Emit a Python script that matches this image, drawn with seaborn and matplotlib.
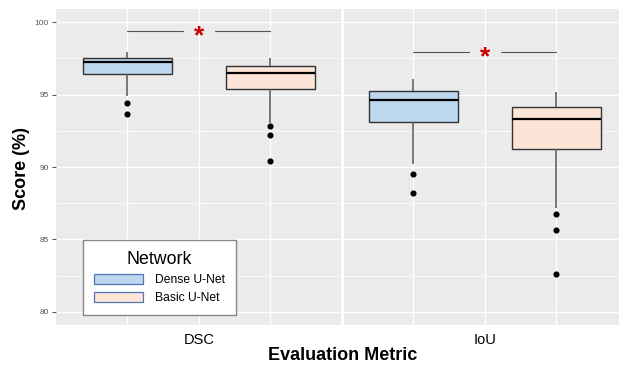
import numpy as np
import pandas as pd
import matplotlib
matplotlib.use("Agg")
import matplotlib.pyplot as plt
from matplotlib.patches import Patch
import seaborn as sns

# ---- data (box statistics, %) ----
metrics = ["DSC", "IoU"]
networks = ["Dense U-Net", "Basic U-Net"]

dense_q1 = [96.40, 93.10]
dense_med = [97.22, 94.64]
dense_q3 = [97.52, 95.22]
dense_lo = [94.90, 90.20]
dense_hi = [97.92, 96.07]
dense_out = [[94.43, 93.68], [89.54, 88.23]]

basic_q1 = [95.36, 91.22]
basic_med = [96.50, 93.31]
basic_q3 = [96.94, 94.16]
basic_lo = [93.06, 87.15]
basic_hi = [97.50, 95.20]
basic_out = [[92.85, 92.20, 90.41], [86.76, 85.63, 82.60]]

sig_y = [99.38, 97.93]
sig_label = ["*", "*"]
yticks = [80, 85, 90, 95, 100]


def sample(q1, med, q3, lo, hi, outs):
    # 21 values whose quartiles/whiskers/outliers equal the read statistics
    low = sorted(outs) + [lo]
    vals = low + [q1] * (6 - len(low)) + [med] * 5 + [q3] * 9 + [hi]
    return vals


rows = []
for i, m in enumerate(metrics):
    for v in sample(dense_q1[i], dense_med[i], dense_q3[i], dense_lo[i], dense_hi[i], dense_out[i]):
        rows.append((m, networks[0], v))
    for v in sample(basic_q1[i], basic_med[i], basic_q3[i], basic_lo[i], basic_hi[i], basic_out[i]):
        rows.append((m, networks[1], v))
df = pd.DataFrame(rows, columns=["metric", "network", "score"])

sns.set_theme(style="darkgrid")
plt.rcParams["font.family"] = ["Liberation Sans", "DejaVu Sans"]
plt.rcParams["text.color"] = "black"

fig = plt.figure(figsize=(6.19, 3.71), dpi=100)
ax = fig.add_axes([55.7 / 619, 46 / 371, (628 - 55.7) / 619, (325 - 9.3) / 371])
ax.set_facecolor("#EBEBEB")

fills = {"Dense U-Net": "#BDD7EE", "Basic U-Net": "#FCE4D6"}
sns.boxplot(
    data=df, x="metric", y="score", hue="network", order=metrics, hue_order=networks,
    palette=fills, saturation=1, width=1.0, gap=0.38, ax=ax, showcaps=False, legend=False,
    linecolor="#333333", linewidth=1.0,
    whiskerprops=dict(color="#555555", linewidth=1.1),
    medianprops=dict(color="black", linewidth=1.6),
    flierprops=dict(marker="o", markerfacecolor="black", markeredgecolor="black", markersize=3.4),
)

ax.set_xlim(-0.5, 1.5)
ax.set_ylim(79.1, 100.88)

# grid
ax.grid(False)
for x in [-0.25, 0, 0.25, 0.75, 1, 1.25]:
    ax.axvline(x, color="white", lw=1.0, zorder=0)
ax.axvline(0.5, color="white", lw=2.0, zorder=0)
for y in yticks:
    ax.axhline(y, color="white", lw=1.0, zorder=0)
for y in [82.5, 87.5, 92.5, 97.5]:
    ax.axhline(y, color="white", lw=0.5, zorder=0)

for s in ax.spines.values():
    s.set_visible(False)

ax.set_yticks(yticks)
ax.set_yticklabels([str(t) for t in yticks])
ax.tick_params(axis="y", length=3, width=0.8, color="#555555", labelsize=6,
               labelcolor="#555555", pad=2, left=True)
ax.tick_params(axis="x", length=0, labelsize=10.5, labelcolor="black", pad=6)
ax.set_xticks([0, 1])
ax.set_xticklabels(metrics)

ax.set_xlabel("")
ax.set_ylabel("")
fig.text(21.7 / 619, 1 - 168 / 371, "Score (%)", rotation=90, ha="center", va="center",
         fontsize=13, fontweight="bold", color="black")
fig.text(343 / 619, 1 - 356 / 371, "Evaluation Metric", ha="center", va="center",
         fontsize=13, fontweight="bold", color="black")

# significance brackets
for i in range(len(metrics)):
    ax.plot([i - 0.25, i - 0.055], [sig_y[i], sig_y[i]], color="#555555", lw=0.8)
    ax.plot([i + 0.055, i + 0.25], [sig_y[i], sig_y[i]], color="#555555", lw=0.8)
    ax.text(i, sig_y[i] - 0.2, sig_label[i], color="#CC0000", fontsize=19, ha="center",
            va="center_baseline", fontweight="bold")

handles = [Patch(facecolor=fills[n], edgecolor="#4F74B8", linewidth=0.9) for n in networks]
leg = ax.legend(handles, networks, title="Network", loc="lower left",
                bbox_to_anchor=(0.0477, 0.0317), borderaxespad=0, fontsize=8.7,
                title_fontsize=12.8, handlelength=4.1, handleheight=0.9,
                handletextpad=0.95, labelspacing=0.5, borderpad=0.9, frameon=True,
                fancybox=False)
leg.get_frame().set_edgecolor("#888888")
leg.get_frame().set_linewidth(1.0)
leg.get_frame().set_facecolor("white")
leg.get_frame().set_alpha(1)
for t in leg.get_texts():
    t.set_color("black")
leg.get_title().set_color("black")

fig.savefig("out.png", dpi=100, facecolor="white")
